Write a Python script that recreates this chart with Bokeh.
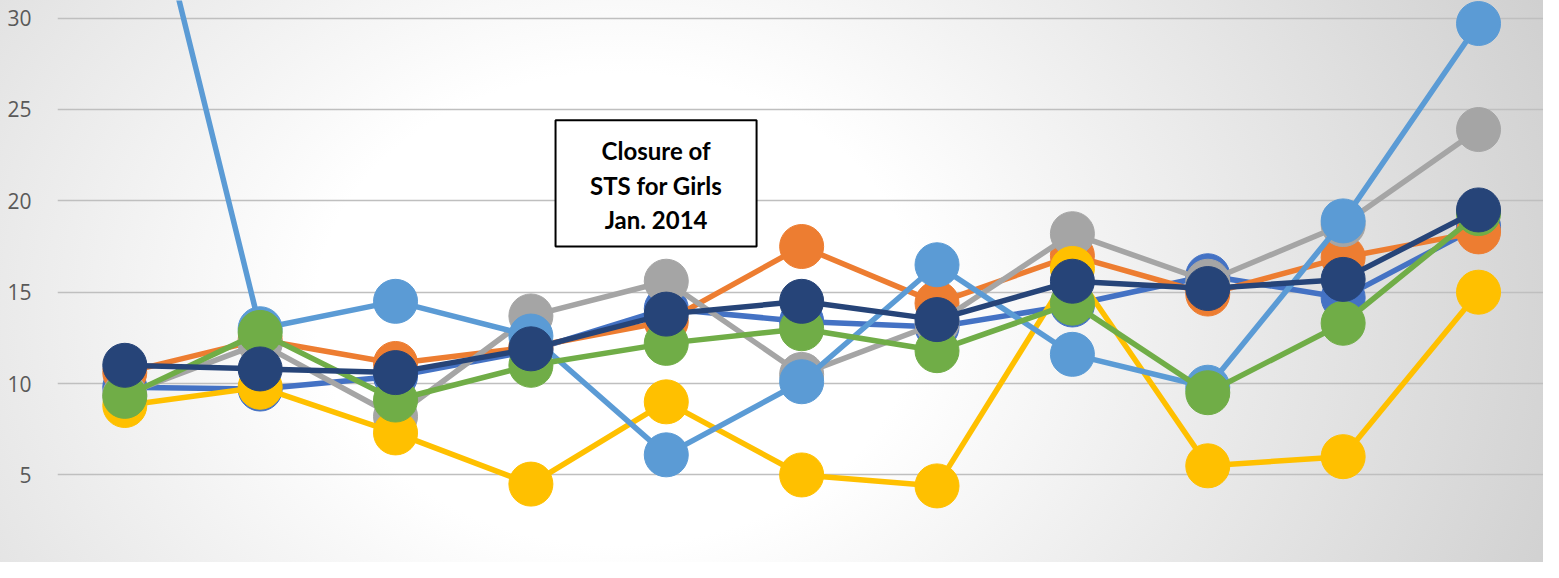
from bokeh.plotting import figure
from bokeh.models import Range1d, FixedTicker, BoxAnnotation, Label
from bokeh.embed import file_html
from bokeh.resources import INLINE

# x positions (period index; the category labels are not visible in the reference)
periods = list(range(11))

# series values
s_blue = [9.8, 9.7, 10.4, 11.8, 14.1, 13.4, 13.1, 14.3, 15.9, 14.7, 18.6]
s_orange = [10.6, 12.4, 11.1, 12.0, 13.4, 17.5, 14.4, 17.0, 14.9, 16.9, 18.3]
s_gray = [9.4, 12.2, 8.2, 13.7, 15.6, 10.5, 13.3, 18.2, 15.6, 18.7, 23.9]
s_yellow = [8.8, 9.8, 7.3, 4.5, 9.0, 5.0, 4.4, 16.3, 5.5, 6.0, 15.0]
s_lightblue = [43.0, 13.0, 14.5, 12.6, 6.1, 10.1, 16.5, 11.6, 9.8, 18.9, 29.7]
s_green = [9.3, 12.8, 9.1, 11.0, 12.2, 13.0, 11.8, 14.4, 9.5, 13.3, 19.3]
s_navy = [11.0, 10.8, 10.6, 11.9, 13.8, 14.5, 13.5, 15.6, 15.2, 15.7, 19.5]

series = [
    (s_blue, "#4472C4"),
    (s_orange, "#ED7D31"),
    (s_gray, "#A5A5A5"),
    (s_yellow, "#FFC000"),
    (s_lightblue, "#5B9BD5"),
    (s_green, "#70AD47"),
    (s_navy, "#264478"),
]

y_ticks = [0, 5, 10, 15, 20, 25, 30]
note_lines = ["Closure of", "STS for Girls", "Jan. 2014"]

p = figure(width=1543, height=562, output_backend="svg", toolbar_location=None,
           x_range=Range1d(-0.497, 10.48), y_range=Range1d(0.21, 30.96),
           x_axis_location=None, min_border_left=57, min_border_right=0,
           min_border_top=0, min_border_bottom=0)

p.background_fill_color = None
p.border_fill_color = None
p.outline_line_color = None
p.styles = {"background": "radial-gradient(ellipse 65% 140% at 40% 55%, #ffffff 30%, #d0d0d0 100%)"}

p.xgrid.visible = False
p.ygrid.grid_line_color = "#bfbfbf"
p.ygrid.grid_line_width = 1.5
p.yaxis.ticker = FixedTicker(ticks=y_ticks)
p.yaxis.axis_line_color = None
p.yaxis.major_tick_line_color = None
p.yaxis.minor_tick_line_color = None
p.yaxis.major_label_standoff = 20
p.yaxis.major_label_text_font = "Open Sans"
p.yaxis.major_label_text_font_size = "21px"
p.yaxis.major_label_text_color = "#595959"

for vals, col in series:
    p.line(periods, vals, line_width=5.5, color=col, line_join="round")
    p.scatter(periods, vals, size=44, color=col)

box = BoxAnnotation(left=3.182, right=4.667, bottom=17.5, top=24.41,
                    fill_color="white", fill_alpha=1.0,
                    line_color="black", line_width=2, line_alpha=1.0)
p.add_layout(box)

for txt, yy in zip(note_lines, [22.77, 20.85, 18.95]):
    p.add_layout(Label(x=3.925, y=yy, text=txt, text_align="center",
                       text_baseline="middle", text_font="Lato",
                       text_font_style="bold", text_font_size="24px",
                       text_color="black"))

open("out.html", "w").write(file_html(p, INLINE))
